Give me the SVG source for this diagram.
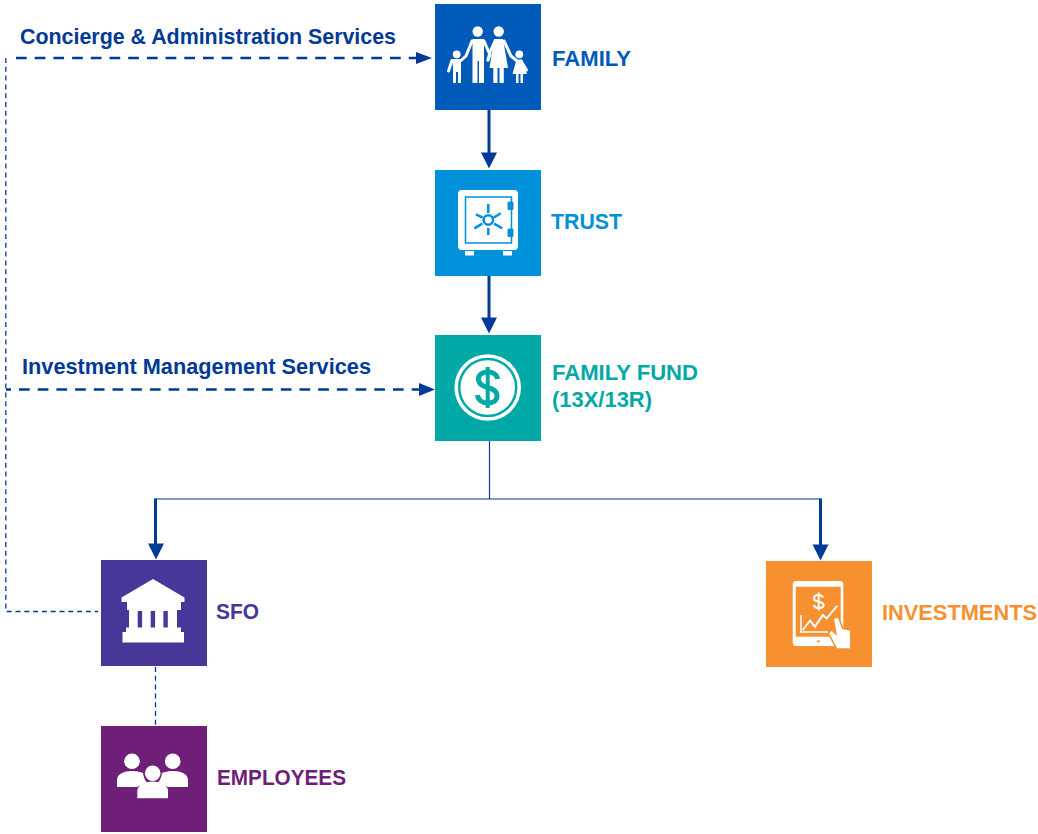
<svg xmlns="http://www.w3.org/2000/svg" width="1038" height="834" viewBox="0 0 1038 834">
<style>
text{font-family:"Liberation Sans",Arial,sans-serif;font-weight:700;font-size:22px;stroke-width:.2}
.i{fill:#fff}
.a{fill:none;stroke:#fff;stroke-width:3;stroke-linecap:round;stroke-linejoin:round}
.thick{fill:none;stroke:#003a96;stroke-width:3}
.thin{fill:none;stroke:#003a96;stroke-width:1.200}
.dash{fill:none;stroke:#003a96;stroke-width:2.700;stroke-dasharray:10.700 8}
.dots{fill:none;stroke:#003a96;stroke-width:1.300;stroke-dasharray:5 3.800}
.head{fill:#003a96}
</style>
<rect width="1038" height="834" fill="#fff"/>
<g id="connectors">
<path class="thick" d="M489 110V154"/><polygon class="head" points="481,152.500 497,152.500 489,168.500"/>
<path class="thick" d="M489 276V319"/><polygon class="head" points="481,317.500 497,317.500 489,333.500"/>
<path class="thin" d="M489.500 441V499H155.500M489.500 499H820.500"/>
<path class="thick" d="M155.500 498.500V545"/><polygon class="head" points="148,543.500 164,543.500 156,559.500"/>
<path class="thick" d="M820.500 498.500V546"/><polygon class="head" points="812.500,544.500 828.500,544.500 820.500,560.500"/>
<path class="dash" d="M16 58H418"/><polygon class="head" points="416,52 416,64 432,58"/>
<path class="dash" d="M6 389.500H421" stroke-dashoffset="5.700"/><polygon class="head" points="419,383 419,396 435,389.500"/>
<path class="dots" d="M5.800 58V611.500H98"/>
<path class="dots" d="M155.500 667V726"/>
</g>
<g id="family">
<rect x="435" y="4" width="106" height="106" fill="#005ab9"/>
<g class="i">
<circle cx="477.700" cy="31.500" r="5.200"/><circle cx="498.700" cy="31.500" r="5.200"/><circle cx="456.700" cy="54.300" r="3.900"/><circle cx="519.300" cy="54.300" r="3.900"/>
<path d="M472.500 39H484V83H479V61H477.500V83H472.500Z"/>
<path d="M494 39H503L508 68H503.800V83H499.500V68H497.500V83H493.300V68H489.500Z"/>
<path d="M452.500 59.500H461V83H458V72H456V83H453V68Z"/>
<path d="M516.500 59.500H522L527 74H523V83H520.500V74H518.500V83H516V74H512.500Z"/>
</g>
<path class="a" d="M472 41L466 56L461 60.500M461 60.500L452 60.500L448.500 71"/>
<path class="a" d="M484 41L490 55L488 60"/>
<path class="a" d="M495 41L490 52L488 60"/>
<path class="a" d="M504 41L511 56L517 61M521 61L526.500 70"/>
</g>
<text x="552" y="66" fill="#005ab9" textLength="79" lengthAdjust="spacingAndGlyphs">FAMILY</text>
<g id="trust">
<rect x="435" y="170" width="106" height="106" fill="#0091da"/>
<rect class="i" x="458" y="190" width="60" height="60" rx="4"/>
<rect class="i" x="465" y="251" width="9" height="4.500"/><rect class="i" x="503" y="251" width="9" height="4.500"/>
<rect x="465.500" y="197" width="46" height="46" fill="none" stroke="#0091da" stroke-width="1.500"/>
<rect x="507.500" y="201.500" width="6" height="8.500" rx="1.500" fill="#0091da"/><rect x="507.500" y="228.500" width="6" height="8.500" rx="1.500" fill="#0091da"/>
<circle cx="488.300" cy="220" r="4.700" fill="none" stroke="#0091da" stroke-width="2.500"/>
<path d="M488.300 204V213M488.300 228V235M476 214.300L482.700 217.700M500.700 213.300L493.500 217.700M474.300 228.300L482.300 223.700M502.300 228.300L494 223.700" fill="none" stroke="#0091da" stroke-width="2.500"/>
</g>
<text x="551" y="229" fill="#0091da" textLength="71" lengthAdjust="spacingAndGlyphs">TRUST</text>
<g id="family-fund">
<rect x="435" y="335" width="106" height="106" fill="#00a9a5"/>
<circle class="i" cx="487.700" cy="387.500" r="33.300"/>
<circle cx="487.700" cy="387.500" r="28.500" fill="none" stroke="#00a9a5" stroke-width="2.500"/>
<path d="M497.500 379C497 374.500 493 372 487.700 372C482 372 478.500 375 478.500 379C478.500 390 497 385 497 396C497 400.500 493 403 487.700 403C482 403 478 400 477.500 395" fill="none" stroke="#00a9a5" stroke-width="5"/>
<path d="M487.700 367V408" fill="none" stroke="#00a9a5" stroke-width="4"/>
</g>
<text x="552" y="380" fill="#00a9a5" textLength="146" lengthAdjust="spacingAndGlyphs">FAMILY FUND</text>
<text x="552" y="407" fill="#00a9a5" textLength="100" lengthAdjust="spacingAndGlyphs">(13X/13R)</text>
<g id="sfo">
<rect x="101" y="560" width="106" height="106" fill="#483698"/>
<path class="i" d="M153 579L184.500 597.500V602H181V610H177V627.500H181V632H184V642.500H122.500V632H126V627.500H129V610H127V602H121.500V597.500Z"/>
<rect x="137.700" y="611" width="4.400" height="16.500" fill="#483698"/><rect x="150.700" y="611" width="4.400" height="16.500" fill="#483698"/><rect x="163.400" y="611" width="4.400" height="16.500" fill="#483698"/>
</g>
<text x="216" y="619" fill="#483698" textLength="43" lengthAdjust="spacingAndGlyphs">SFO</text>
<g id="investments">
<rect x="766" y="561" width="106" height="106" fill="#f79130"/>
<rect class="i" x="792.700" y="581" width="50.600" height="65" rx="3.500"/>
<rect x="795.700" y="586.700" width="45" height="50" fill="#f79130"/>
<circle cx="818.500" cy="641.500" r="1.300" fill="#f79130"/>
<path d="M801 615V632H828" fill="none" stroke="#fff" stroke-width="1.500"/>
<path d="M802.700 630L810 620.700L815 626.700L822.700 615L826.700 618.300L837.300 605.700" fill="none" stroke="#fff" stroke-width="2"/>
<path d="M823 597.500C822 595.500 820.500 595 818.500 595C815.500 595 814 596.500 814 598.500C814 603 823.500 600.500 823.500 605C823.500 607 821.500 608 819 608C816 608 814.500 607 813.500 605" fill="none" stroke="#fff" stroke-width="2.200"/>
<path d="M818.700 592.500V610.500" fill="none" stroke="#fff" stroke-width="1.800"/>
<path d="M833.300 618.300L838.300 616.700L842.700 628.300L850.700 630V649H836.700L828.300 633.300L831.700 630L836 634Z" fill="#fff" stroke="#f79130" stroke-width="1.500"/>
</g>
<text x="882" y="620" fill="#f79130" textLength="155" lengthAdjust="spacingAndGlyphs">INVESTMENTS</text>
<g id="employees">
<rect x="101" y="726" width="106" height="106" fill="#6f1f77"/>
<circle class="i" cx="132" cy="761.300" r="7.800"/><circle class="i" cx="172.700" cy="761.300" r="7.800"/>
<path class="i" d="M117 787V780C117 774 124 771 132 771C136 771 141 772 143 773C144 779 146 782 148 783C143 784 140 785 137 787Z"/>
<path class="i" d="M188 787V780C188 774 181 771 173 771C169 771 164 772 162 773C161 779 159 782 157 783C162 784 165 785 168 787Z"/>
<circle class="i" cx="152.700" cy="773.300" r="7.800"/>
<path class="i" d="M137.300 798.300V791C137.300 785 145 781.500 152.700 781.500C160.500 781.500 168 785 168 791V798.300Z"/>
</g>
<text x="217" y="785" fill="#6f1f77" textLength="129" lengthAdjust="spacingAndGlyphs">EMPLOYEES</text>
<text x="20" y="44" fill="#003a96" textLength="376" lengthAdjust="spacingAndGlyphs">Concierge &amp; Administration Services</text>
<text x="22" y="374" fill="#003a96" textLength="349" lengthAdjust="spacingAndGlyphs">Investment Management Services</text>
</svg>
